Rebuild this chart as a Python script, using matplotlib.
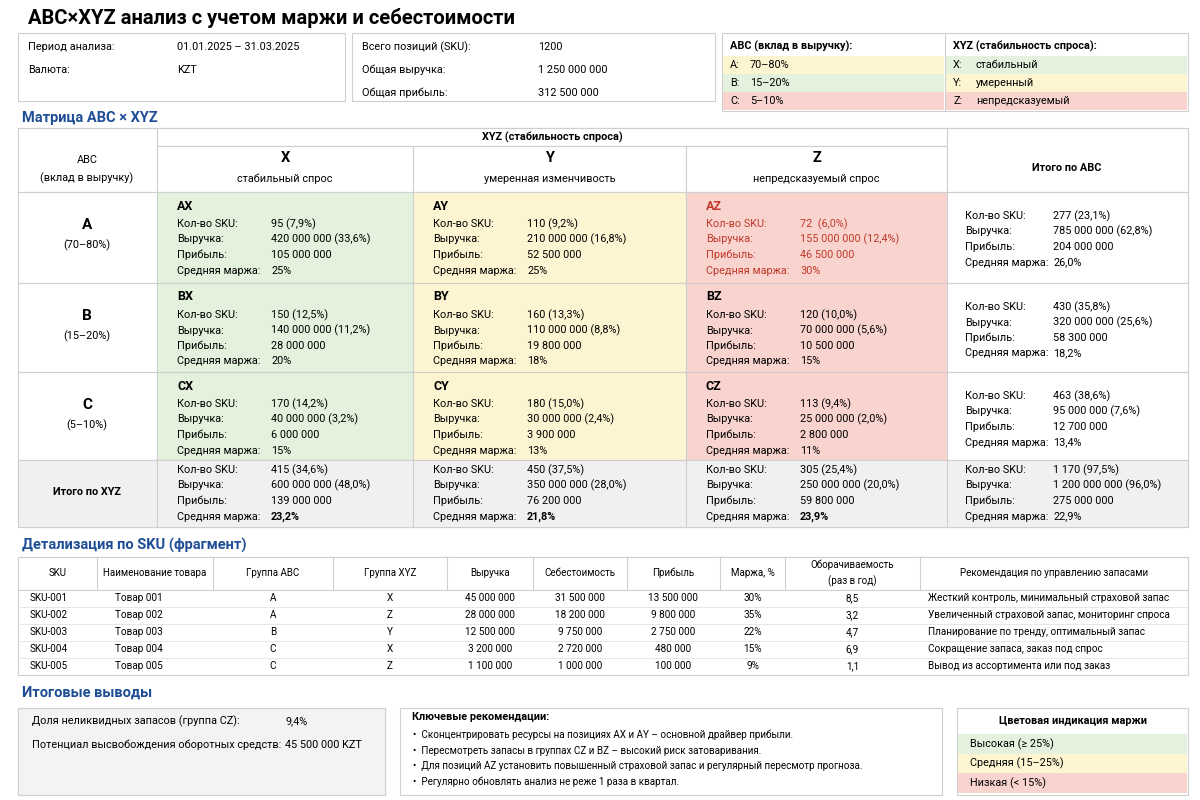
import matplotlib
matplotlib.use("Agg")
import matplotlib.pyplot as plt
from matplotlib.patches import Rectangle

plt.rcParams['font.family'] = ['Roboto', 'DejaVu Sans']

title = "ABC×XYZ анализ с учетом маржи и себестоимости"
info1 = [("Период анализа:", "01.01.2025 – 31.03.2025"), ("Валюта:", "KZT")]
info2 = [("Всего позиций (SKU):", "1200"), ("Общая выручка:", "1 250 000 000"), ("Общая прибыль:", "312 500 000")]
abc_legend = [("A:", "70–80%"), ("B:", "15–20%"), ("C:", "5–10%")]
xyz_legend = [("X:", "стабильный"), ("Y:", "умеренный"), ("Z:", "непредсказуемый")]

rows = ["A", "B", "C"]
row_sub = ["(70–80%)", "(15–20%)", "(5–10%)"]
cols = ["X", "Y", "Z"]
col_sub = ["стабильный спрос", "умеренная изменчивость", "непредсказуемый спрос"]
sku_cnt = [["95 (7,9%)", "110 (9,2%)", "72  (6,0%)"],
           ["150 (12,5%)", "160 (13,3%)", "120 (10,0%)"],
           ["170 (14,2%)", "180 (15,0%)", "113 (9,4%)"]]
revenue = [["420 000 000 (33,6%)", "210 000 000 (16,8%)", "155 000 000 (12,4%)"],
           ["140 000 000 (11,2%)", "110 000 000 (8,8%)", "70 000 000 (5,6%)"],
           ["40 000 000 (3,2%)", "30 000 000 (2,4%)", "25 000 000 (2,0%)"]]
profit = [["105 000 000", "52 500 000", "46 500 000"],
          ["28 000 000", "19 800 000", "10 500 000"],
          ["6 000 000", "3 900 000", "2 800 000"]]
margin = [["25%", "25%", "30%"], ["20%", "18%", "15%"], ["15%", "13%", "11%"]]
row_tot = [("277 (23,1%)", "785 000 000 (62,8%)", "204 000 000", "26,0%"),
           ("430 (35,8%)", "320 000 000 (25,6%)", "58 300 000", "18,2%"),
           ("463 (38,6%)", "95 000 000 (7,6%)", "12 700 000", "13,4%")]
col_tot = [("415 (34,6%)", "600 000 000 (48,0%)", "139 000 000", "23,2%"),
           ("450 (37,5%)", "350 000 000 (28,0%)", "76 200 000", "21,8%"),
           ("305 (25,4%)", "250 000 000 (20,0%)", "59 800 000", "23,9%")]
grand_tot = ("1 170 (97,5%)", "1 200 000 000 (96,0%)", "275 000 000", "22,9%")
labels4 = ["Кол-во SKU:", "Выручка:", "Прибыль:", "Средняя маржа:"]
cell_colors = [["#e4f1dc", "#fdf5d2", "#f9d4cf"],
               ["#e4f1dc", "#fdf5d2", "#f9d4cf"],
               ["#e4f1dc", "#fdf5d2", "#f9d4cf"]]

sku_head = ["SKU", "Наименование товара", "Группа ABC", "Группа XYZ", "Выручка", "Себестоимость",
            "Прибыль", "Маржа, %", "Оборачиваемость\n(раз в год)", "Рекомендация по управлению запасами"]
sku_rows = [
    ["SKU-001", "Товар 001", "A", "X", "45 000 000", "31 500 000", "13 500 000", "30%", "8,5", "Жесткий контроль, минимальный страховой запас"],
    ["SKU-002", "Товар 002", "A", "Z", "28 000 000", "18 200 000", "9 800 000", "35%", "3,2", "Увеличенный страховой запас, мониторинг спроса"],
    ["SKU-003", "Товар 003", "B", "Y", "12 500 000", "9 750 000", "2 750 000", "22%", "4,7", "Планирование по тренду, оптимальный запас"],
    ["SKU-004", "Товар 004", "C", "X", "3 200 000", "2 720 000", "480 000", "15%", "6,9", "Сокращение запаса, заказ под спрос"],
    ["SKU-005", "Товар 005", "C", "Z", "1 100 000", "1 000 000", "100 000", "9%", "1,1", "Вывод из ассортимента или под заказ"],
]
summary = [("Доля неликвидных запасов (группа CZ):", "9,4%"),
           ("Потенциал высвобождения оборотных средств:", "45 500 000 KZT")]
recs = ["Сконцентрировать ресурсы на позициях AX и AY – основной драйвер прибыли.",
        "Пересмотреть запасы в группах CZ и BZ – высокий риск затоваривания.",
        "Для позиций AZ установить повышенный страховой запас и регулярный пересмотр прогноза.",
        "Регулярно обновлять анализ не реже 1 раза в квартал."]
margin_legend = ["Высокая (≥ 25%)", "Средняя (15–25%)", "Низкая (< 15%)"]

GREEN, YEL, RED, GRAY, BORDER = "#e4f1dc", "#fdf5d2", "#f9d4cf", "#f0f0f0", "#cfcfcf"
BLUE = "#1f4e96"

fig = plt.figure(figsize=(12, 8), dpi=100)
ax = fig.add_axes([0, 0, 1, 1])
ax.set_xlim(0, 1200); ax.set_ylim(800, 0); ax.axis("off")

def rect(x0, y0, x1, y1, fc="white", ec=BORDER, lw=0.8):
    ax.add_patch(Rectangle((x0, y0), x1 - x0, y1 - y0, fc=fc, ec=ec, lw=lw))

def t(x, y, s, size=7.8, **kw):
    ax.text(x, y, s, fontsize=size, va="center", **kw)

t(28, 18, title, size=14.5, weight="bold")

rect(18, 33, 345, 101)
for i, (a, b) in enumerate(info1):
    t(28, 47 + i * 23, a); t(177, 47 + i * 23, b)
rect(352, 33, 715, 101)
for i, (a, b) in enumerate(info2):
    t(362, 47 + i * 23, a); t(538, 47 + i * 23, b)
rect(722, 33, 1188, 111)
ax.plot([945, 945], [33, 111], color=BORDER, lw=0.8)
t(730, 46, "ABC (вклад в выручку):", weight="bold")
t(953, 46, "XYZ (стабильность спроса):", weight="bold")
abc_c = [YEL, GREEN, RED]; xyz_c = [GREEN, YEL, RED]
for i in range(3):
    y0 = 56 + i * 18
    rect(723, y0, 944, y0 + 18, fc=abc_c[i], ec="none")
    rect(946, y0, 1187, y0 + 18, fc=xyz_c[i], ec="none")
    t(730, y0 + 9, abc_legend[i][0]); t(750, y0 + 9, abc_legend[i][1])
    t(953, y0 + 9, xyz_legend[i][0]); t(976, y0 + 9, xyz_legend[i][1])

t(22, 118, "Матрица ABC × XYZ", size=10.5, weight="bold", color=BLUE)
cx = [18, 157, 413, 686, 947, 1188]
ry = [192, 283, 372, 460, 527]
rect(18, 128, 1188, 527)
rect(18, 128, 157, 192)
rect(157, 128, 947, 146)
t(552, 137, "XYZ (стабильность спроса)", weight="bold", ha="center")
for j in range(3):
    rect(cx[j + 1], 146, cx[j + 2], 192)
    t((cx[j + 1] + cx[j + 2]) / 2, 158, cols[j], size=10.5, weight="bold", ha="center")
    t((cx[j + 1] + cx[j + 2]) / 2, 179, col_sub[j], ha="center")
rect(947, 128, 1188, 192)
t(1067, 168, "Итого по ABC", weight="bold", ha="center")
t(87, 160, "ABC", ha="center"); t(87, 178, "(вклад в выручку)", ha="center")

def block(x, y, vals, label=None, color="black", bold_last=False, off=94):
    if label:
        t(x, y + 14, label, size=9, weight="bold", color=color)
    for k in range(4):
        yy = y + 32 + k * 15.5
        w = "bold" if (bold_last and k == 3) else "normal"
        t(x, yy, labels4[k], color=color)
        t(x + off, yy, vals[k], color=color, weight=w)

for i in range(3):
    rect(18, ry[i], 157, ry[i + 1])
    t(87, ry[i] + 33, rows[i], size=11, weight="bold", ha="center")
    t(87, ry[i] + 53, row_sub[i], ha="center")
    for j in range(3):
        rect(cx[j + 1], ry[i], cx[j + 2], ry[i + 1], fc=cell_colors[i][j])
        col = "#c0392b" if (i == 0 and j == 2) else "black"
        block(cx[j + 1] + 20, ry[i],
              (sku_cnt[i][j], revenue[i][j], profit[i][j], margin[i][j]),
              label=rows[i] + cols[j], color=col)
    rect(947, ry[i], 1188, ry[i + 1])
    block(965, ry[i] - 8, row_tot[i], off=88)
rect(18, 460, 1188, 527, fc=GRAY)
for xx in cx[1:-1]:
    ax.plot([xx, xx], [460, 527], color=BORDER, lw=0.8)
t(87, 492, "Итого по XYZ", weight="bold", ha="center")
for j in range(3):
    block(cx[j + 1] + 20, 438, col_tot[j], bold_last=True)
block(965, 438, grand_tot, off=88)

t(22, 545, "Детализация по SKU (фрагмент)", size=10.5, weight="bold", color=BLUE)
sx = [18, 97, 213, 333, 447, 533, 627, 720, 785, 920, 1188]
rect(18, 557, 1188, 675)
rect(18, 557, 1188, 590)
for xx in sx[1:-1]:
    ax.plot([xx, xx], [557, 590], color=BORDER, lw=0.8)
for k, h in enumerate(sku_head):
    t((sx[k] + sx[k + 1]) / 2, 573, h, size=7, ha="center", linespacing=1.6)
for r, row in enumerate(sku_rows):
    y = 598 + r * 17
    if r > 0:
        ax.plot([18, 1188], [y - 8.5, y - 8.5], color="#e3e3e3", lw=0.6)
    for k, v in enumerate(row):
        if k == 0:
            t(30, y, v, size=7.2)
        elif k == 1:
            t(115, y, v, size=7.2)
        elif k == 9:
            t(928, y, v, size=7.2)
        else:
            t((sx[k] + sx[k + 1]) / 2, y, v, size=7.2, ha="center")

t(22, 693, "Итоговые выводы", size=10.5, weight="bold", color=BLUE)
rect(18, 708, 385, 795, fc="#f2f3f5")
for i, (a, b) in enumerate(summary):
    t(32, 721 + i * 24, a); t(285, 721 + i * 24, b)
rect(400, 708, 942, 795, fc="white")
t(412, 717, "Ключевые рекомендации:", weight="bold")
for i, s in enumerate(recs):
    t(413, 735 + i * 15.5, "•  " + s, size=7.1)
rect(957, 708, 1188, 795)
t(1073, 721, "Цветовая индикация маржи", weight="bold", ha="center")
for i, s in enumerate(margin_legend):
    y0 = 734 + i * 19.5
    rect(958, y0, 1187, y0 + 19.5, fc=[GREEN, YEL, RED][i], ec="none")
    t(970, y0 + 10, s)

fig.savefig("out.png", dpi=100)
